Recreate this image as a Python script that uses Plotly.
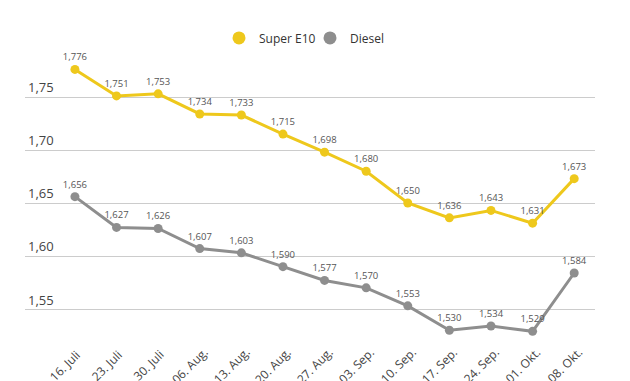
import plotly.graph_objects as go

dates = ["16. Juli", "23. Juli", "30. Juli", "06. Aug.", "13. Aug.", "20. Aug.", "27. Aug.",
         "03. Sep.", "10. Sep.", "17. Sep.", "24. Sep.", "01. Okt.", "08. Okt."]
super_e10 = [1.776, 1.751, 1.753, 1.734, 1.733, 1.715, 1.698, 1.680, 1.650, 1.636, 1.643, 1.631, 1.673]
diesel = [1.656, 1.627, 1.626, 1.607, 1.603, 1.590, 1.577, 1.570, 1.553, 1.530, 1.534, 1.529, 1.584]
y_ticks = [1.55, 1.60, 1.65, 1.70, 1.75]

YELLOW = "#EEC81C"
GRAY = "#8E8E8E"
FONT = "Open Sans"

fig = go.Figure()
for name, vals, col in [("Super E10", super_e10, YELLOW), ("Diesel", diesel, GRAY)]:
    fig.add_trace(go.Scatter(
        x=list(range(len(dates))), y=vals, mode="lines+markers+text",
        line=dict(color=col, width=3), marker=dict(color=col, size=9),
        texttemplate="%{y:.3f}", textposition="top center",
        textfont=dict(family=FONT, size=9.5, color="#555555"),
        showlegend=False, cliponaxis=False,
    ))
    fig.add_trace(go.Scatter(
        x=[None], y=[None], mode="markers", name=name,
        marker=dict(color=col, size=13),
    ))

# rotated category labels
for i, d in enumerate(dates):
    fig.add_annotation(
        x=i, y=0, xref="x", yref="paper", text=d, textangle=-45,
        showarrow=False, xanchor="center", yanchor="middle", xshift=-10, yshift=-25,
        font=dict(family=FONT, size=12, color="#444444"),
    )

fig.update_layout(
    width=622, height=373,
    margin=dict(l=17, r=35, t=52, b=41),
    paper_bgcolor="white", plot_bgcolor="white",
    separators=",.",
    font=dict(family=FONT, color="#444444"),
    legend=dict(orientation="h", x=0.5, xanchor="center", y=1.079, yanchor="middle",
                font=dict(size=12, color="#333333"), entrywidth=46, entrywidthmode="pixels"),
    xaxis=dict(
        range=[-1.2, 12.5], tickmode="array", tickvals=list(range(len(dates))),
        showticklabels=False, showgrid=False, zeroline=False, showline=False,
        automargin=False,
    ),
    yaxis=dict(
        range=[1.5208, 1.7849], tickvals=y_ticks, tickformat=".2f",
        ticklabelposition="inside top", showgrid=True, gridcolor="#CCCCCC", gridwidth=1,
        zeroline=False, showline=False, tickfont=dict(size=13, color="#444444"),
        automargin=False,
    ),
)

fig.write_html("out.html")
